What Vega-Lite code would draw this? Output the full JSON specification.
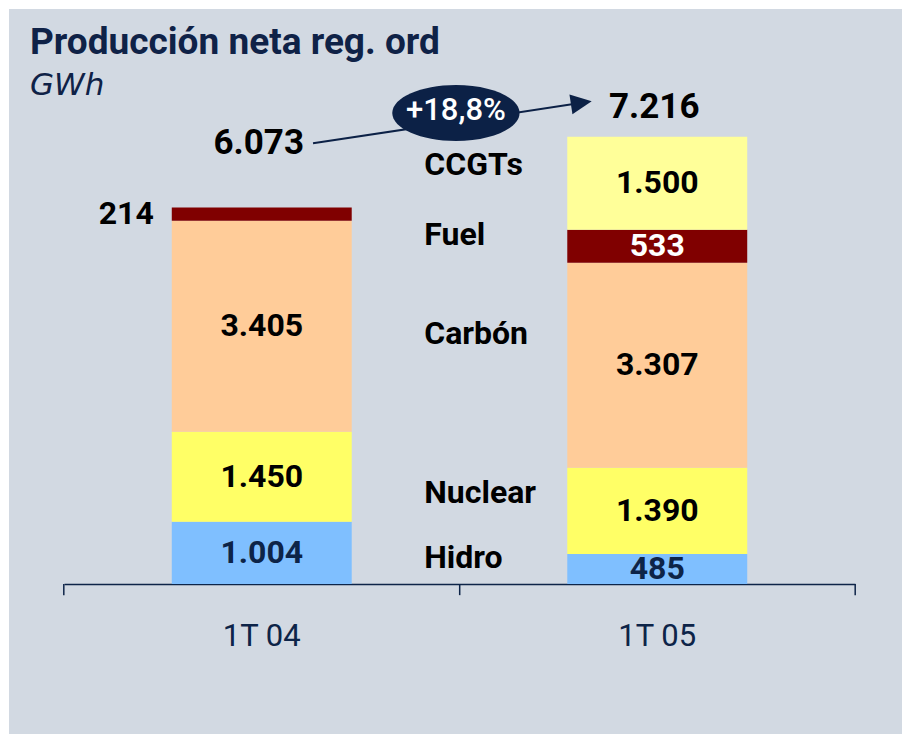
{
  "$schema": "https://vega.github.io/schema/vega-lite/v6.json",
  "width": 893,
  "height": 725,
  "autosize": {"type": "none"},
  "padding": {"left": 9, "top": 9, "right": 0, "bottom": 0},
  "background": "#ffffff",
  "title": {
    "text": "Producción neta reg. ord",
    "subtitle": "GWh",
    "anchor": "start",
    "frame": "group",
    "offset": -93,
    "dx": 21,
    "font": "Roboto",
    "fontSize": 37,
    "fontWeight": "bold",
    "color": "#0f2247",
    "subtitleFont": "DejaVu Sans",
    "subtitleFontSize": 31,
    "subtitleFontStyle": "italic",
    "subtitleColor": "#0f2247",
    "subtitlePadding": 9
  },
  "datasets": {
    "bars": [
      {"cat": "1T 04", "source": "Hidro", "rank": 1, "value": 1004},
      {"cat": "1T 04", "source": "Nuclear", "rank": 2, "value": 1450},
      {"cat": "1T 04", "source": "Carbón", "rank": 3, "value": 3405},
      {"cat": "1T 04", "source": "Fuel", "rank": 4, "value": 214},
      {"cat": "1T 05", "source": "Hidro", "rank": 1, "value": 485},
      {"cat": "1T 05", "source": "Nuclear", "rank": 2, "value": 1390},
      {"cat": "1T 05", "source": "Carbón", "rank": 3, "value": 3307},
      {"cat": "1T 05", "source": "Fuel", "rank": 4, "value": 533},
      {"cat": "1T 05", "source": "CCGTs", "rank": 5, "value": 1500}
    ],
    "totals": [
      {"cat": "1T 04", "total": 6073},
      {"cat": "1T 05", "total": 7216}
    ],
    "growth": [
      {"change": "+18,8%"}
    ]
  },
  "config": {
    "view": {"fill": "#d2d9e2", "stroke": null},
    "locale": {"number": {"decimal": ",", "thousands": ".", "grouping": [3], "currency": ["", " €"]}},
    "font": "Roboto"
  },
  "layer": [
    {
      "data": {"name": "bars"},
      "mark": {"type": "bar"},
      "encoding": {
        "x": {
          "field": "cat", "type": "nominal", "title": null,
          "scale": {"domain": ["1T 04", "1T 05"], "range": [55, 846], "paddingInner": 0.545, "paddingOuter": 0.2725},
          "axis": {
            "orient": "bottom", "offset": -150, "title": null, "labelAngle": 0,
            "domainColor": "#0d2448", "domainWidth": 1.5, "ticks": false, "tickSize": 0,
            "labelFont": "Roboto", "labelFontSize": 31, "labelColor": "#0d2448", "labelPadding": 37
          }
        },
        "y": {
          "field": "value", "type": "quantitative", "stack": "zero", "axis": null,
          "scale": {"domain": [0, 8000], "range": [575, 79], "nice": false, "zero": false}
        },
        "color": {
          "field": "source", "type": "nominal", "legend": null,
          "scale": {"domain": ["Hidro", "Nuclear", "Carbón", "Fuel", "CCGTs"], "range": ["#7fbfff", "#ffff66", "#ffcc99", "#800000", "#ffff99"]}
        },
        "order": {"field": "rank", "type": "quantitative"}
      }
    },
    {
      "data": {"name": "totals"},
      "mark": {"type": "rule", "color": "#0d2448", "strokeWidth": 1.5},
      "encoding": {
        "x": {"field": "cat", "type": "nominal", "bandPosition": 1.6, "title": null},
        "y": {"datum": 0, "type": "quantitative", "axis": null},
        "y2": {"datum": -180}
      }
    },
    {
      "data": {"values": [{}]},
      "mark": {"type": "rule", "color": "#0d2448", "strokeWidth": 1.5},
      "encoding": {
        "x": {"datum": "1T 04", "type": "nominal", "bandPosition": -0.6, "title": null},
        "y": {"datum": 0, "type": "quantitative", "axis": null},
        "y2": {"datum": -180}
      }
    },
    {
      "data": {"name": "bars"},
      "mark": {"type": "text", "font": "Roboto", "fontSize": 32, "fontWeight": "bold", "baseline": "middle", "align": "center"},
      "encoding": {
        "x": {"field": "cat", "type": "nominal", "title": null},
        "y": {"field": "value", "type": "quantitative", "stack": "zero", "bandPosition": 0.5, "axis": null},
        "detail": {"field": "source"},
        "order": {"field": "rank", "type": "quantitative"},
        "text": {
          "condition": {"test": "datum.cat === '1T 04' && datum.source === 'Fuel'", "value": ""},
          "field": "value", "type": "quantitative", "format": ","
        },
        "color": {
          "condition": [
            {"test": "datum.source === 'Hidro'", "value": "#0d2448"},
            {"test": "datum.source === 'Fuel'", "value": "#ffffff"}
          ],
          "value": "#000000"
        }
      }
    },
    {
      "data": {"name": "bars"},
      "mark": {"type": "text", "font": "Roboto", "fontSize": 32, "fontWeight": "bold", "baseline": "middle", "align": "right", "dx": -18, "color": "#000000"},
      "encoding": {
        "x": {"field": "cat", "type": "nominal", "bandPosition": 0, "title": null},
        "y": {"field": "value", "type": "quantitative", "stack": "zero", "bandPosition": 0.5, "axis": null},
        "detail": {"field": "source"},
        "order": {"field": "rank", "type": "quantitative"},
        "text": {
          "condition": {"test": "!(datum.cat === '1T 04' && datum.source === 'Fuel')", "value": ""},
          "field": "value", "type": "quantitative", "format": ","
        }
      }
    },
    {
      "data": {"name": "bars"},
      "mark": {"type": "text", "font": "Roboto", "fontSize": 32, "fontWeight": "bold", "baseline": "middle", "align": "left", "dx": -143, "dy": -7, "color": "#000000"},
      "encoding": {
        "x": {"field": "cat", "type": "nominal", "bandPosition": 0, "title": null},
        "y": {"field": "value", "type": "quantitative", "stack": "zero", "bandPosition": 0.62, "axis": null},
        "detail": {"field": "source"},
        "order": {"field": "rank", "type": "quantitative"},
        "text": {
          "condition": {"test": "datum.cat !== '1T 05'", "value": ""},
          "field": "source", "type": "nominal"
        }
      }
    },
    {
      "data": {"name": "totals"},
      "transform": [{"filter": "datum.cat === '1T 04'"}],
      "mark": {"type": "text", "font": "Roboto", "fontSize": 35, "fontWeight": "bold", "baseline": "middle", "align": "center", "dx": -3, "dy": -64, "color": "#000000"},
      "encoding": {
        "x": {"field": "cat", "type": "nominal", "title": null},
        "y": {"field": "total", "type": "quantitative", "axis": null},
        "text": {"field": "total", "type": "quantitative", "format": ","}
      }
    },
    {
      "data": {"name": "totals"},
      "transform": [{"filter": "datum.cat === '1T 05'"}],
      "mark": {"type": "text", "font": "Roboto", "fontSize": 35, "fontWeight": "bold", "baseline": "middle", "align": "center", "dx": -3, "dy": -30, "color": "#000000"},
      "encoding": {
        "x": {"field": "cat", "type": "nominal", "title": null},
        "y": {"field": "total", "type": "quantitative", "axis": null},
        "text": {"field": "total", "type": "quantitative", "format": ","}
      }
    },
    {
      "data": {"values": [{}]},
      "mark": {"type": "rule", "color": "#0c2146", "strokeWidth": 2},
      "encoding": {
        "x": {"datum": "1T 04", "type": "nominal", "bandPosition": 0.785, "title": null},
        "x2": {"datum": "1T 05", "bandPosition": 0.0986},
        "y": {"datum": 7108, "type": "quantitative", "axis": null},
        "y2": {"datum": 7769}
      }
    },
    {
      "data": {"values": [{}]},
      "mark": {"type": "point", "shape": "M -1,0 A 1,0.44 0 1,1 1,0 A 1,0.44 0 1,1 -1,0 Z", "size": 16200, "filled": true, "color": "#0c2146", "opacity": 1, "strokeWidth": 0},
      "encoding": {
        "x": {"datum": "1T 04", "type": "nominal", "bandPosition": 1.579, "title": null},
        "y": {"datum": 7597, "type": "quantitative", "axis": null}
      }
    },
    {
      "data": {"values": [{}]},
      "mark": {"type": "point", "shape": "M 0,0 L -2,-0.95 L -2,0.95 Z", "size": 441, "angle": 351.4, "filled": true, "color": "#0c2146", "opacity": 1, "strokeWidth": 0},
      "encoding": {
        "x": {"datum": "1T 05", "type": "nominal", "bandPosition": 0.1358, "title": null},
        "y": {"datum": 7785, "type": "quantitative", "axis": null}
      }
    },
    {
      "data": {"name": "growth"},
      "mark": {"type": "text", "font": "Roboto", "fontSize": 31, "fontWeight": 500, "baseline": "middle", "align": "center", "color": "#ffffff"},
      "encoding": {
        "x": {"datum": "1T 04", "type": "nominal", "bandPosition": 1.579, "title": null},
        "y": {"datum": 7624, "type": "quantitative", "axis": null},
        "text": {"field": "change", "type": "nominal"}
      }
    }
  ]
}
